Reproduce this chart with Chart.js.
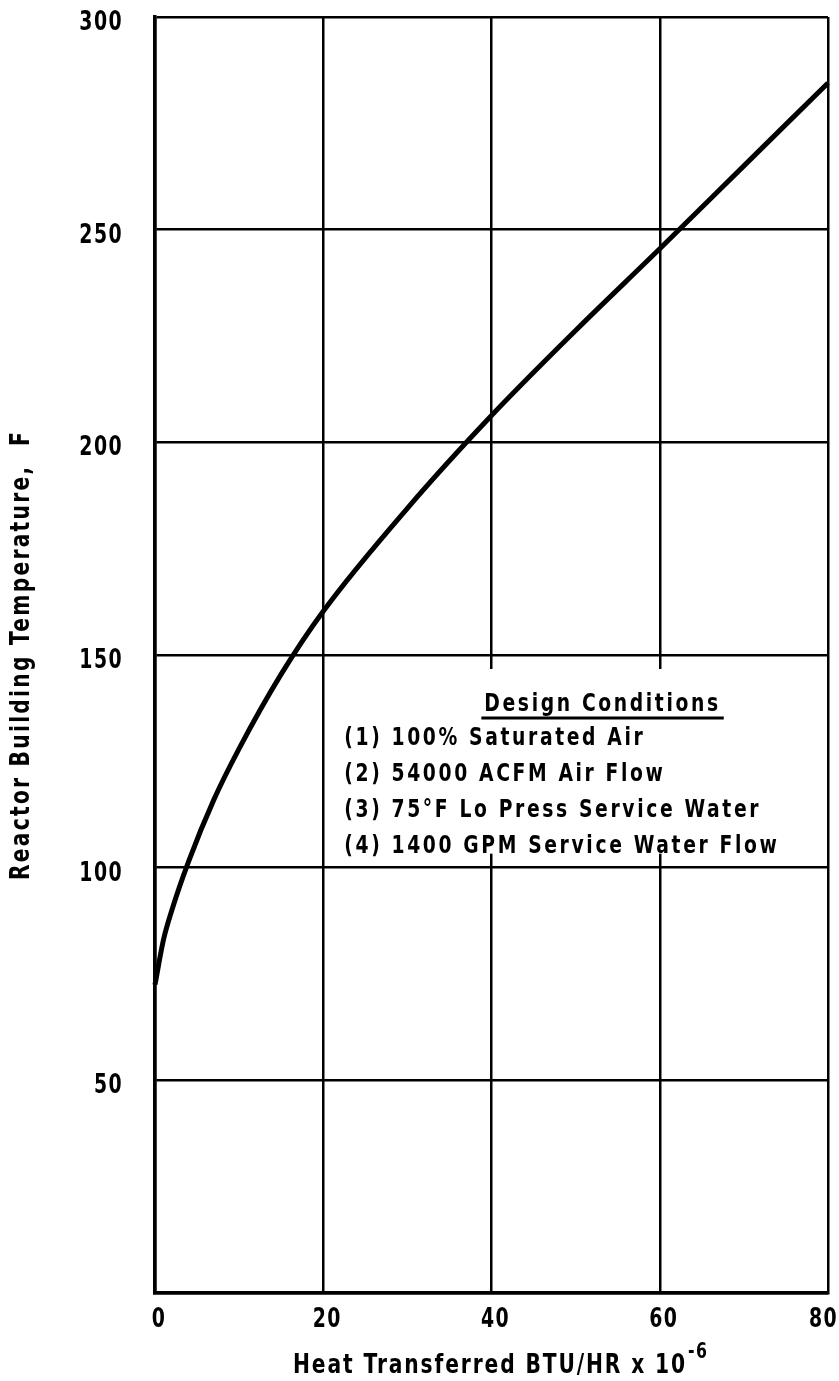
<!DOCTYPE html>
<html>
<head>
<meta charset="utf-8">
<script src="https://cdn.jsdelivr.net/npm/chart.js@4"></script>
<style>
  body { margin: 0; background: #fff; }
  canvas { display: block; }
</style>
</head>
<body>
<canvas id="heatChart" width="839" height="1381"></canvas>
<script>
// values
var heatX = [0, 1, 2, 4, 7, 10, 15, 20, 30, 40, 50, 60, 70, 80];
var tempY = [72.5, 83, 90, 101.5, 116, 128, 145.5, 160.3, 184.5, 206.3, 226.3, 245.5, 265, 284.5];

var xTicks = [0, 20, 40, 60, 80];
var yTicks = [50, 100, 150, 200, 250, 300];

var boxTitle = "Design Conditions";
var boxLines = [
  "(1) 100% Saturated Air",
  "(2) 54000 ACFM Air Flow",
  "(3) 75\u00B0F Lo Press Service Water",
  "(4) 1400 GPM Service Water Flow"
];
var xTitle = "Heat Transferred BTU/HR x 10";
var xTitleExp = "-6";
var yTitle = "Reactor Building Temperature,  F";

var FONT = "'DejaVu Sans', 'Liberation Sans', sans-serif";

var points = heatX.map(function (x, i) { return { x: x, y: tempY[i] }; });

function setTextStyle(ctx, opts) {
  ctx.font = "bold " + opts.size + "px " + FONT;
  ctx.letterSpacing = (opts.spacing || 0) + "px";
}

function measureNarrow(ctx, text, opts) {
  ctx.save();
  setTextStyle(ctx, opts);
  var w = ctx.measureText(text).width * (opts.sx || 0.75);
  ctx.restore();
  return w;
}

// draws text squeezed sideways, the original lettering is a narrow face
function narrowText(ctx, text, x, y, opts) {
  ctx.save();
  setTextStyle(ctx, opts);
  ctx.textAlign = opts.align || "left";
  ctx.textBaseline = opts.baseline || "alphabetic";
  ctx.translate(x, y);
  if (opts.rotate) ctx.rotate(opts.rotate);
  ctx.scale(opts.sx || 0.75, 1);
  ctx.fillText(text, 0, 0);
  var w = ctx.measureText(text).width * (opts.sx || 0.75);
  ctx.restore();
  return w;
}

var notesPlugin = {
  id: "notes",
  // blank the grid behind the note box
  beforeDatasetsDraw: function (chart) {
    var ctx = chart.ctx, xs = chart.scales.x, ys = chart.scales.y;
    ctx.save();
    ctx.fillStyle = "#fff";
    var l = xs.getPixelForValue(20) + 3, r = xs.getPixelForValue(80) - 3;
    var t = ys.getPixelForValue(150) + 14, b = ys.getPixelForValue(100) - 14;
    ctx.fillRect(l, t, r - l, b - t);
    ctx.restore();
  },
  afterDraw: function (chart) {
    var ctx = chart.ctx, xs = chart.scales.x, ys = chart.scales.y;
    var area = chart.chartArea;
    ctx.save();
    ctx.fillStyle = "#000";
    ctx.strokeStyle = "#000";

    // tick labels
    var tickStyle = { size: 27, sx: 0.7, spacing: 2, align: "center" };
    xTicks.forEach(function (v) {
      var w = measureNarrow(ctx, String(v), tickStyle);
      var px = Math.min(xs.getPixelForValue(v) + 4, chart.width - 1 - w / 2);
      narrowText(ctx, String(v), px, area.bottom + 34, tickStyle);
    });
    yTicks.forEach(function (v) {
      narrowText(ctx, String(v), area.left - 32, ys.getPixelForValue(v) + 13,
        { size: 27, sx: 0.7, spacing: 2, align: "right" });
    });

    // note box
    var boxStyle = { size: 25, sx: 0.75, spacing: 3.5 };
    var cx = xs.getPixelForValue(53.2);
    var ty = ys.getPixelForValue(150) + 56;
    var w = narrowText(ctx, boxTitle, cx, ty, { size: 25, sx: 0.75, spacing: 3.5, align: "center" });
    ctx.lineWidth = 3;
    ctx.beginPath();
    ctx.moveTo(cx - w / 2 - 3, ty + 7);
    ctx.lineTo(cx + w / 2 + 3, ty + 7);
    ctx.stroke();

    var lx = xs.getPixelForValue(22.5);
    for (var i = 0; i < boxLines.length; i++) {
      narrowText(ctx, boxLines[i], lx, ty + 34 + i * 36, boxStyle);
    }

    // x title with exponent
    var x0 = 293;
    var mainW = narrowText(ctx, xTitle, x0, 1373, { size: 27, sx: 0.75, spacing: 2.5 });
    narrowText(ctx, xTitleExp, x0 + mainW + 1, 1358, { size: 21, sx: 0.75, spacing: 2 });

    // y title
    narrowText(ctx, yTitle, 22, (area.top + area.bottom) / 2, {
      size: 27, sx: 0.75, spacing: 3, align: "center", baseline: "middle", rotate: -Math.PI / 2
    });
    ctx.restore();
  }
};

var chart = new Chart(document.getElementById("heatChart"), {
  type: "scatter",
  data: {
    datasets: [
      {
        data: points,
        showLine: true,
        borderColor: "#000",
        borderWidth: 5,
        pointRadius: 0,
        cubicInterpolationMode: "monotone",
        clip: false
      }
    ]
  },
  options: {
    responsive: false,
    animation: false,
    events: [],
    layout: { padding: { top: 17, right: 11, left: 0, bottom: 0 } },
    plugins: {
      legend: { display: false },
      tooltip: { enabled: false }
    },
    scales: {
      x: {
        type: "linear",
        min: 0,
        max: 80,
        afterBuildTicks: function (scale) {
          scale.ticks = xTicks.map(function (v) { return { value: v }; });
        },
        afterFit: function (scale) {
          scale.height = 88;
          scale.paddingLeft = 0;
          scale.paddingRight = 0;
        },
        ticks: { display: false },
        grid: { color: "#000", lineWidth: 2.5, drawTicks: false },
        border: { display: true, color: "#000", width: 3.5 }
      },
      y: {
        min: 0,
        max: 300,
        afterBuildTicks: function (scale) {
          scale.ticks = [0].concat(yTicks).map(function (v) { return { value: v }; });
        },
        afterFit: function (scale) {
          scale.width = 155;
          scale.paddingTop = 0;
          scale.paddingBottom = 0;
        },
        ticks: { display: false },
        grid: { color: "#000", lineWidth: 2.5, drawTicks: false },
        border: { display: true, color: "#000", width: 3.5 }
      }
    }
  },
  plugins: [notesPlugin]
});
</script>
</body>
</html>
